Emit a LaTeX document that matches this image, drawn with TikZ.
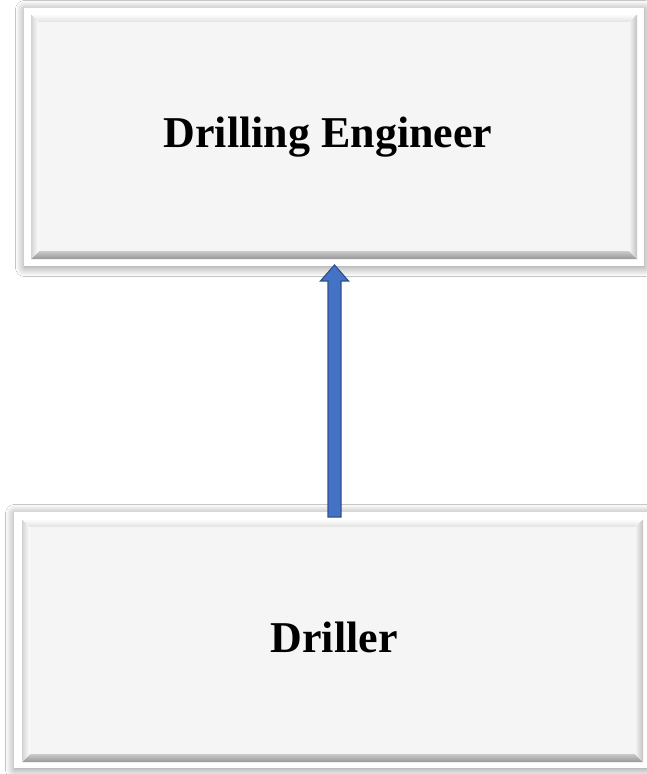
\documentclass[tikz,border=0pt]{standalone}
\usepackage{fontspec}
\setmainfont{Liberation Serif}
\usetikzlibrary{shadows.blur}
\definecolor{faceG}{HTML}{F5F5F5}
\definecolor{bevelD}{HTML}{A8A8A8}
\definecolor{bevelL}{HTML}{FDFDFD}
\definecolor{arrowF}{HTML}{4472C4}
\definecolor{arrowE}{HTML}{2F528F}
\tikzset{
  frame/.style={fill=white, draw=none, blur shadow={shadow xshift=0.5pt, shadow yshift=-1.5pt, shadow blur radius=9pt, shadow blur steps=12, shadow opacity=45}},
  face/.style={fill=faceG, draw=none},
  label/.style={font=\bfseries\fontsize{44}{52}\selectfont, text=black},
}
% draws a bevelled box: outer frame corners, bevel rim, inner face
\newcommand{\bevbox}[9]{%
  % #1 name, #2..#5 outer x1,y1,x2,y2; #6..#9 rim x1,y1,x2,y2
  \fill[frame] (#2,#3) rectangle (#4,#5);
  \fill[bevelL] (#6,#7) rectangle (#8,#9);
  % bottom rim
  \shade[top color=bevelD!60, bottom color=bevelD!90!black] (#6,#9) -- (#8,#9) -- ([shift={(-8,8)}]#8,#9) -- ([shift={(8,8)}]#6,#9) -- cycle;
  % right rim
  \shade[left color=faceG, right color=bevelD!70] (#8,#7) -- (#8,#9) -- ([shift={(-8,8)}]#8,#9) -- ([shift={(-8,-8)}]#8,#7) -- cycle;
  % left rim
  \shade[left color=bevelD!50, right color=white] (#6,#7) -- (#6,#9) -- ([shift={(8,8)}]#6,#9) -- ([shift={(8,-8)}]#6,#7) -- cycle;
  % top rim
  \shade[top color=white, bottom color=faceG!92!black] (#6,#7) -- (#8,#7) -- ([shift={(-8,-8)}]#8,#7) -- ([shift={(8,-8)}]#6,#7) -- cycle;
  \node[face, minimum width=#8-#6-16, minimum height=#7-#9-16, inner sep=0pt, anchor=south west] (#1) at ([shift={(8,8)}]#6,#9) {};
}
\begin{document}
\begin{tikzpicture}[x=1pt, y=1pt]
  \useasboundingbox (0,0) rectangle (647,-774);
  \fill[white] (0,0) rectangle (647,-774);
  \begin{scope}
    \clip (0,0) rectangle (647,-774);
    \bevbox{eng}{24}{-8}{644}{-266}{31}{-14}{637}{-259}
    \bevbox{dri}{14}{-512}{655}{-768}{22}{-519}{643}{-762}
  \end{scope}
  \node[label] (engT) at (328,-137) {Drilling Engineer};
  \node[label] (driT) at (334,-637) {Driller};
  % upward block arrow from the lower box to the upper one
  \coordinate (tail) at (334.5,-517);
  \coordinate (tip) at (334.5,-265);
  \filldraw[fill=arrowF, draw=arrowE, line width=1.2pt, line join=miter]
    ([xshift=-6.5pt]tail) -- ([shift={(-6.5pt,-16pt)}]tip) -- ([shift={(-14pt,-16pt)}]tip) -- (tip)
    -- ([shift={(14pt,-16pt)}]tip) -- ([shift={(6.5pt,-16pt)}]tip) -- ([xshift=6.5pt]tail) -- cycle;
\end{tikzpicture}
\end{document}
